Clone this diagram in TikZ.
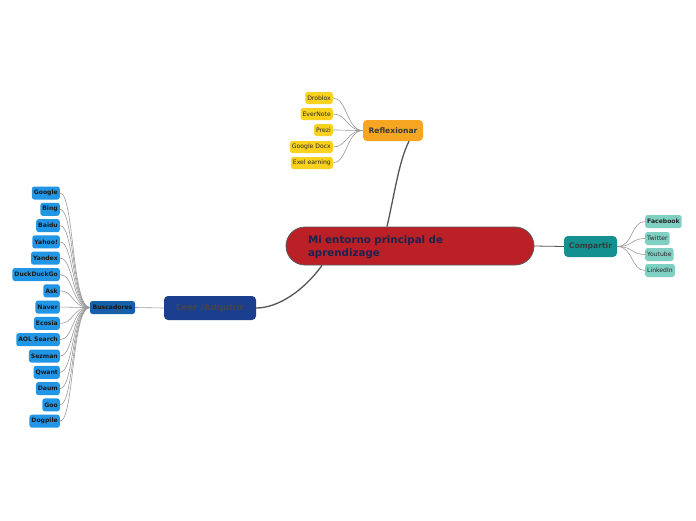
\documentclass[tikz,border=0pt]{standalone}
\usepackage{fontspec}
\setmainfont{DejaVu Sans}
\usetikzlibrary{calc}
\definecolor{mainred}{HTML}{BA2026}
\definecolor{mainborder}{HTML}{5A5A5A}
\definecolor{navytext}{HTML}{1B2450}
\definecolor{orangec}{HTML}{F6A623}
\definecolor{yellowc}{HTML}{F8D21C}
\definecolor{tealc}{HTML}{13908F}
\definecolor{lteal}{HTML}{7FD0C2}
\definecolor{leerc}{HTML}{1B3F8E}
\definecolor{buscc}{HTML}{1660AA}
\definecolor{engc}{HTML}{2196E6}
\definecolor{darkt}{HTML}{3A3A3A}
\definecolor{leertext}{HTML}{454545}
\definecolor{linec}{HTML}{555555}
\definecolor{leafline}{HTML}{9A9A9A}
\tikzset{
  mainnode/.style={draw=mainborder, line width=0.8pt, fill=mainred, rounded corners=19pt, minimum width=248pt, minimum height=38pt, inner sep=0pt},
  maintextstyle/.style={text width=204pt, align=left, inner sep=0pt, text=navytext, font=\fontsize{10.3}{13}\selectfont\bfseries},
  branch/.style={rounded corners=4pt, inner sep=0pt, font=\fontsize{7.6}{9}\selectfont\bfseries, text=darkt},
  yleaf/.style={fill=yellowc, rounded corners=2.5pt, inner xsep=2pt, inner ysep=0pt, minimum height=12pt, font=\fontsize{6.1}{7}\selectfont, text=black!85, anchor=east},
  tleaf/.style={fill=lteal, rounded corners=2.5pt, inner xsep=2pt, inner ysep=0pt, minimum height=13pt, font=\fontsize{6.1}{7}\selectfont, text=black!85, anchor=west},
  eleaf/.style={fill=engc, rounded corners=2.5pt, inner xsep=2pt, inner ysep=0pt, minimum height=13pt, font=\fontsize{6.1}{7}\selectfont\bfseries, text=black!90, anchor=east},
  thick conn/.style={draw=linec, line width=1.3pt},
  mid conn/.style={draw=linec, line width=0.8pt},
  leaf conn/.style={draw=leafline, line width=0.6pt},
}
\begin{document}
\begin{tikzpicture}[x=1pt,y=-1pt]
\useasboundingbox[fill=white] (0,0) rectangle (696,520);
% main
\node[mainnode] (main) at (410,246) {};
\node[maintextstyle] (maintext) at (410,247.5) {Mi entorno principal de\\aprendizage};
% Reflexionar
\node[branch, fill=orangec, minimum width=60pt, minimum height=21pt] (refl) at (393,130.5) {Reflexionar};
\node[yleaf] (drob) at (333,98) {Droblox};
\node[yleaf] (ever) at (333,114) {EverNote};
\node[yleaf] (prezi) at (333,130) {Prezi};
\node[yleaf] (gdocx) at (333,147) {Google Docx};
\node[yleaf] (exel) at (333,163) {Exel earning};
% Compartir
\node[branch, fill=tealc, minimum width=53pt, minimum height=21pt] (comp) at (590.5,246.5) {Compartir};
\node[tleaf, font=\fontsize{6.1}{7}\selectfont\bfseries] (fb) at (645,221.5) {Facebook};
\node[tleaf] (tw) at (645,238.5) {Twitter};
\node[tleaf] (yt) at (645,254.5) {Youtube};
\node[tleaf] (li) at (645,270.5) {LinkedIn};
% Leer
\node[branch, fill=leerc, text=leertext, minimum width=92pt, minimum height=24pt, font=\fontsize{8.7}{10}\selectfont\bfseries] (leer) at (210,308) {Leer /Adquirir};
\node[fill=buscc, rounded corners=2.5pt, inner sep=0pt, minimum width=45pt, minimum height=13pt, font=\fontsize{6.1}{7}\selectfont\bfseries, text=black!90] (busc) at (112.5,307.5) {Buscadores};
\node[eleaf] (e1) at (60,193) {Google};
\node[eleaf] (e2) at (60,209.3) {Bing};
\node[eleaf] (e3) at (60,225.6) {Baidu};
\node[eleaf] (e4) at (60,241.9) {Yahoo!};
\node[eleaf] (e5) at (60,258.2) {Yandex};
\node[eleaf] (e6) at (60,274.5) {DuckDuckGo};
\node[eleaf] (e7) at (60,290.8) {Ask};
\node[eleaf] (e8) at (60,307.1) {Naver};
\node[eleaf] (e9) at (60,323.4) {Ecosia};
\node[eleaf] (e10) at (60,339.7) {AOL Search};
\node[eleaf] (e11) at (60,356) {Sezman};
\node[eleaf] (e12) at (60,372.3) {Qwant};
\node[eleaf] (e13) at (60,388.6) {Daum};
\node[eleaf] (e14) at (60,404.9) {Goo};
\node[eleaf] (e15) at (60,421.2) {Dogpile};
% main connectors
\draw[thick conn] ($(main.north)+(-23,0)$) .. controls +(8,-35) and +(-10,20) .. ($(refl.south)+(16,0)$);
\draw[mid conn] (main.east) -- (comp.west);
\draw[thick conn] ($(main.south)+(-88,0)$) .. controls +(-18,25) and +(22,0) .. (leer.east);
\draw[leaf conn] (leer.west) -- (busc.east);
% leaf connectors
\foreach \n in {drob,ever,prezi,gdocx,exel}
  \draw[leaf conn] (refl.west) .. controls +(-16,0) and +(14,0) .. (\n.east);
\foreach \n in {fb,tw,yt,li}
  \draw[leaf conn] (comp.east) .. controls +(16,0) and +(-14,0) .. (\n.west);
\foreach \i in {1,...,15}
  \draw[leaf conn] (busc.west) .. controls +(-18,0) and +(14,0) .. (e\i.east);
\end{tikzpicture}
\end{document}
